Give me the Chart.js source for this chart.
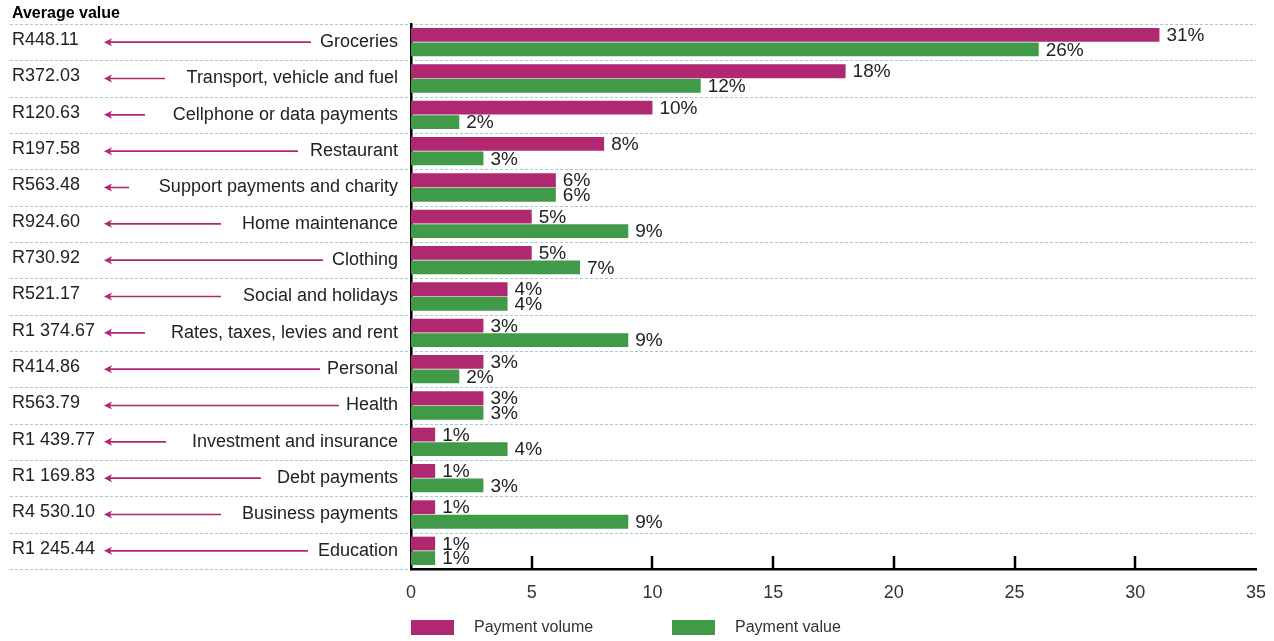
<!DOCTYPE html>
<html>
<head>
<meta charset="utf-8">
<title>Payment volume and value by category</title>
<script src="https://cdn.jsdelivr.net/npm/chart.js@4/dist/chart.umd.min.js"></script>
<style>
  html, body { margin: 0; padding: 0; background: #fff; }
  #wrap { width: 1274px; height: 641px; }
</style>
</head>
<body>
<div id="wrap"><canvas id="chart" width="1274" height="641"></canvas></div>
<script>
// Spending categories, top to bottom
const categories = [
  'Groceries',
  'Transport, vehicle and fuel',
  'Cellphone or data payments',
  'Restaurant',
  'Support payments and charity',
  'Home maintenance',
  'Clothing',
  'Social and holidays',
  'Rates, taxes, levies and rent',
  'Personal',
  'Health',
  'Investment and insurance',
  'Debt payments',
  'Business payments',
  'Education'
];

// Average value per category (left column)
const averageValues = [
  'R448.11', 'R372.03', 'R120.63', 'R197.58', 'R563.48',
  'R924.60', 'R730.92', 'R521.17', 'R1 374.67', 'R414.86',
  'R563.79', 'R1 439.77', 'R1 169.83', 'R4 530.10', 'R1 245.44'
];

// Share of payments, %
const paymentVolume = [31, 18, 10, 8, 6, 5, 5, 4, 3, 3, 3, 1, 1, 1, 1];
const paymentValue = [26, 12, 2, 3, 6, 9, 7, 4, 9, 2, 3, 4, 3, 9, 1];

// X axis
const xTicks = [0, 5, 10, 15, 20, 25, 30, 35];

// Where each arrow's tail stops (px), so it sits next to its label
const arrowTailX = [311, 165, 145, 298, 129, 221, 323, 221, 145, 320, 339, 166, 261, 221, 308];

const FONT = "'Liberation Sans', Arial, sans-serif";
const TEXT = '#222222';
const MAGENTA = '#b0286f';
const GREEN = '#409a48';
const GRID = '#9fcbc8';

// Dashed row separators across the whole width (under the axes)
const gridPlugin = {
  id: 'rowGrid',
  beforeDraw(chart) {
    const ctx = chart.ctx;
    const y = chart.scales.y;
    const area = chart.chartArea;
    const rowH = y.getPixelForValue(1) - y.getPixelForValue(0);

    ctx.save();
    ctx.strokeStyle = GRID;
    ctx.lineWidth = 1;
    ctx.setLineDash([3, 2]);
    for (let i = 0; i <= categories.length; i++) {
      const py = Math.round(y.getPixelForValue(i) - rowH / 2) + 0.5;
      ctx.beginPath();
      ctx.moveTo(10, py);
      ctx.lineTo(area.right, py);
      ctx.stroke();
    }
    ctx.restore();
  },
  // ticks pointing up from the axis
  beforeDatasetsDraw(chart) {
    const ctx = chart.ctx;
    const x = chart.scales.x;
    const area = chart.chartArea;
    ctx.save();
    ctx.strokeStyle = '#000';
    ctx.lineWidth = 2.5;
    xTicks.forEach(v => {
      if (v <= x.min || v >= x.max) return;
      const px = Math.round(x.getPixelForValue(v));
      ctx.beginPath();
      ctx.moveTo(px, area.bottom);
      ctx.lineTo(px, area.bottom - 13);
      ctx.stroke();
    });
    ctx.restore();
  }
};

// Percent labels at the end of each bar
const barLabelPlugin = {
  id: 'barLabels',
  afterDatasetsDraw(chart) {
    const ctx = chart.ctx;
    ctx.save();
    ctx.font = `19px ${FONT}`;
    ctx.fillStyle = TEXT;
    ctx.textAlign = 'left';
    ctx.textBaseline = 'middle';
    chart.data.datasets.forEach((ds, di) => {
      chart.getDatasetMeta(di).data.forEach((bar, i) => {
        ctx.fillText(ds.data[i] + '%', bar.x + 7, bar.y + 1);
      });
    });
    ctx.restore();
  }
};

// Left column: header, average values and arrows
const leftColumnPlugin = {
  id: 'leftColumn',
  afterDraw(chart) {
    const ctx = chart.ctx;
    const y = chart.scales.y;

    ctx.save();
    ctx.fillStyle = '#000';
    ctx.font = `bold 16px ${FONT}`;
    ctx.textBaseline = 'middle';
    ctx.fillText('Average value', 12, 14);

    ctx.font = `18px ${FONT}`;
    averageValues.forEach((val, i) => {
      const py = y.getPixelForValue(i);
      ctx.fillStyle = TEXT;
      ctx.fillText(val, 12, py - 2);

      // arrow
      ctx.strokeStyle = MAGENTA;
      ctx.fillStyle = MAGENTA;
      ctx.lineWidth = 1.6;
      ctx.beginPath();
      ctx.moveTo(109, py);
      ctx.lineTo(arrowTailX[i], py);
      ctx.stroke();
      ctx.beginPath();
      ctx.moveTo(104, py);
      ctx.lineTo(112, py - 4);
      ctx.lineTo(110, py);
      ctx.lineTo(112, py + 4);
      ctx.closePath();
      ctx.fill();
    });
    ctx.restore();
  }
};

// Legend under the axis
const legendPlugin = {
  id: 'bottomLegend',
  afterDraw(chart) {
    const ctx = chart.ctx;
    const left = chart.chartArea.left;
    const offsets = [0, 261];
    ctx.save();
    ctx.font = `16px ${FONT}`;
    ctx.textBaseline = 'middle';
    chart.data.datasets.forEach((ds, i) => {
      const bx = left + offsets[i];
      ctx.fillStyle = ds.backgroundColor;
      ctx.fillRect(bx, 620, 43, 15);
      ctx.fillStyle = '#333';
      ctx.fillText(ds.label, bx + 63, 628);
    });
    ctx.restore();
  }
};

const ctx = document.getElementById('chart').getContext('2d');

new Chart(ctx, {
  type: 'bar',
  data: {
    labels: categories,
    datasets: [
      {
        label: 'Payment volume',
        data: paymentVolume,
        backgroundColor: MAGENTA,
        barPercentage: 0.95,
        categoryPercentage: 0.8
      },
      {
        label: 'Payment value',
        data: paymentValue,
        backgroundColor: GREEN,
        barPercentage: 0.95,
        categoryPercentage: 0.8
      }
    ]
  },
  options: {
    indexAxis: 'y',
    responsive: false,
    animation: false,
    layout: {
      padding: { top: 24, right: 18, bottom: 0, left: 0 }
    },
    plugins: {
      legend: { display: false },
      tooltip: { enabled: false }
    },
    scales: {
      x: {
        min: 0,
        max: 35,
        afterBuildTicks(scale) {
          scale.ticks = xTicks.map(v => ({ value: v }));
        },
        afterFit(scale) {
          scale.height = 72;
          // the "35" label may hang past the plot edge
          scale.paddingLeft = 0;
          scale.paddingRight = 0;
        },
        grid: { display: false, drawTicks: false },
        border: { display: true, color: '#000', width: 2.5 },
        ticks: {
          padding: 13,
          color: '#333',
          font: { family: FONT, size: 18 }
        }
      },
      y: {
        afterFit(scale) {
          scale.width = 411;
        },
        grid: { display: false, drawTicks: false },
        border: { display: true, color: '#000', width: 2.5 },
        ticks: {
          padding: 13,
          color: TEXT,
          autoSkip: false,
          font: { family: FONT, size: 18 }
        }
      }
    }
  },
  plugins: [gridPlugin, barLabelPlugin, leftColumnPlugin, legendPlugin]
});
</script>
</body>
</html>
